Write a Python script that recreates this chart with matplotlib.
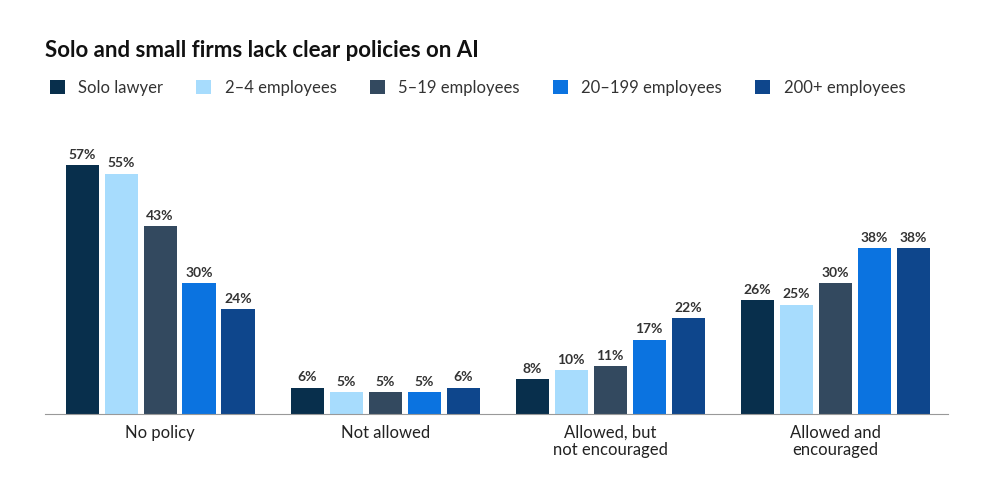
import matplotlib
matplotlib.use("Agg")
import matplotlib.pyplot as plt
import numpy as np

plt.rcParams['font.family'] = ['Lato', 'DejaVu Sans']

categories = ["No policy", "Not allowed", "Allowed, but\nnot encouraged", "Allowed and\nencouraged"]
series = ["Solo lawyer", "2–4 employees", "5–19 employees", "20–199 employees", "200+ employees"]
values = [
    [57, 6, 8, 26],
    [55, 5, 10, 25],
    [43, 5, 11, 30],
    [30, 5, 17, 38],
    [24, 6, 22, 38],
]
colors = ["#082f4c", "#a7dcfd", "#33495f", "#0b73e0", "#0e468c"]

fig = plt.figure(figsize=(9.9, 4.84), dpi=100)
ax = fig.add_axes([0.0455, 0.1446, 0.912, 0.6074])
x = np.arange(len(categories))
w = 0.147
step = 0.173
for i, (s, vals) in enumerate(zip(series, values)):
    pos = x + (i - 2) * step
    ax.bar(pos, vals, width=w, color=colors[i], label=s)
    for p, v in zip(pos, vals):
        ax.text(p, v + 1.0, f"{v}%", ha="center", va="bottom", fontsize=10, fontweight="bold", color="#333333")

ax.set_xlim(-0.511, 3.5)
ax.set_ylim(0, 67.3)
ax.set_yticks([])
ax.set_xticks(x)
ax.set_xticklabels(categories, fontsize=12, color="#222222", linespacing=1.1)
ax.tick_params(axis="x", length=0, pad=8)
for sp in ["top", "right", "left"]:
    ax.spines[sp].set_visible(False)
ax.spines["bottom"].set_color("#999999")

fig.text(0.0455, 0.895, "Solo and small firms lack clear policies on AI", fontsize=16, fontweight="bold", color="#111111", va="center")
leg = fig.legend(loc="center left", bbox_to_anchor=(0.035, 0.818), ncol=5, frameon=False,
                 fontsize=12, handlelength=0.9, handleheight=0.9, columnspacing=2.0, handletextpad=0.8)
for t in leg.get_texts():
    t.set_color("#333333")

fig.savefig("out.png", dpi=100)
